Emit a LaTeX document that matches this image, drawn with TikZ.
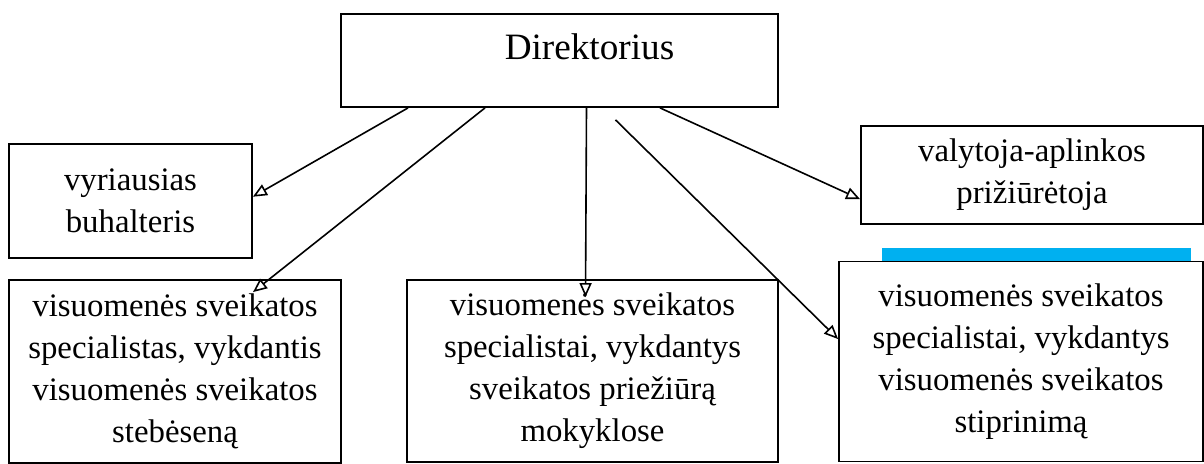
\documentclass[tikz,border=0pt]{standalone}
\usepackage{fontspec}
\setmainfont{Liberation Serif}
\usetikzlibrary{arrows.meta}

\begin{document}
\begin{tikzpicture}[
    x=0.5pt, y=-0.5pt,
    box/.style={draw, line width=0.9pt, align=center, inner sep=0pt,
        font=\fontsize{16.4}{21}\selectfont},
    arr/.style={line width=0.8pt, -{Triangle[open, length=7pt, width=6pt]}}
]
    \useasboundingbox (0,0) rectangle (1204,464);

    % --- top box ---
    \node[box, minimum width=218.5pt, minimum height=46.5pt, text depth=14pt,
        font=\fontsize{18.6}{21}\selectfont] (dir) at (559.5,60.5)
        {\hspace*{30pt}Direktorius};

    % --- middle row ---
    \node[box, minimum width=121.5pt, minimum height=57pt] (buh) at (130.5,201)
        {vyriausias\\buhalteris};
    \node[box, minimum width=171pt, minimum height=49pt] (val) at (1032,175)
        {valytoja-aplinkos\\prižiūrėtoja};

    % blue bar above the right lower box
    \fill[fill={rgb,255:red,0;green,176;blue,240}] (882,248) rectangle (1191,261);

    % --- bottom row ---
    \node[box, minimum width=166pt, minimum height=91.5pt] (steb) at (175,371.5)
        {visuomenės sveikatos\\specialistas, vykdantis\\visuomenės sveikatos\\stebėseną};
    \node[box, minimum width=185.5pt, minimum height=91pt] (mok) at (592.5,371)
        {visuomenės sveikatos\\specialistai, vykdantys\\sveikatos priežiūrą\\mokyklose};
    \node[box, minimum width=182pt, minimum height=100pt, fill=white] (stip) at (1021,361.5)
        {visuomenės sveikatos\\specialistai, vykdantys\\visuomenės sveikatos\\stiprinimą};

    % start points under the top box
    \coordinate (s1) at ([shift={(-151.5,0)}]dir.south);
    \coordinate (s2) at ([shift={(-74.5,0)}]dir.south);
    \coordinate (s3) at ([shift={(27,0)}]dir.south);
    \coordinate (s4) at ([shift={(56,12)}]dir.south);
    \coordinate (s5) at ([shift={(100.5,0)}]dir.south);

    % arrows
    \draw[arr] (s1) -- (buh.2);
    \draw[arr] (s2) -- ([shift={(78,13)}]steb.north);
    \draw[arr] (s3) -- ([shift={(-7,18)}]mok.north);
    \draw[arr] (s4) -- (stip.173);
    \draw[arr] (s5) -- (val.188);

\end{tikzpicture}
\end{document}
